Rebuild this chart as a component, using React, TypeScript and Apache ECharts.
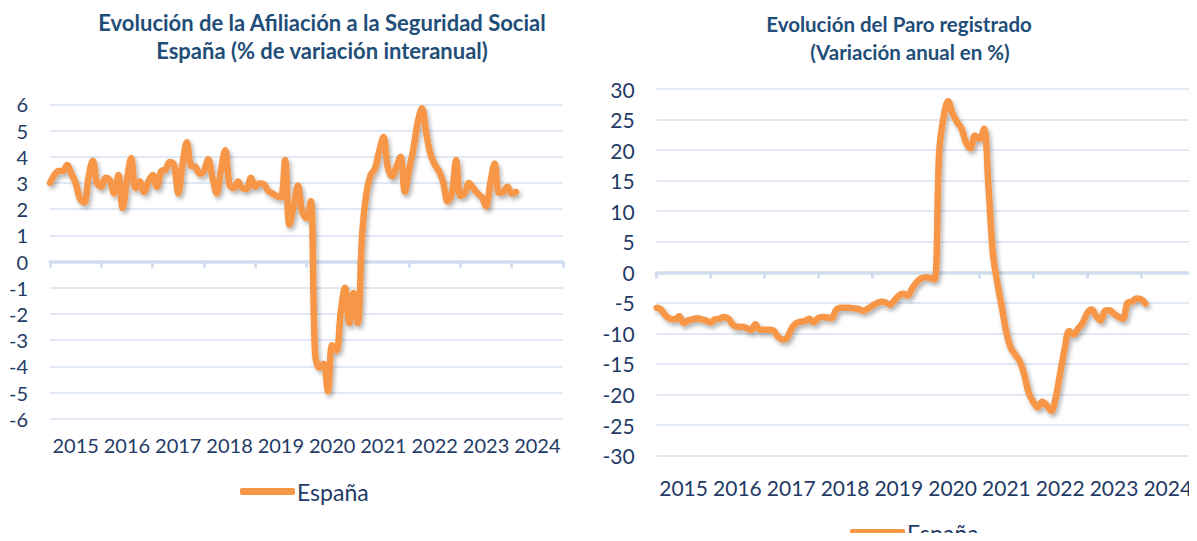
import React, { useEffect, useRef } from "react";
import * as echarts from "echarts";

const yearLabels = ["2015", "2016", "2017", "2018", "2019", "2020", "2021", "2022", "2023", "2024"];

const afiliacionValues = [
  3.0, 3.3, 3.45, 3.45, 3.68, 3.35, 3.0, 2.4, 2.25, 3.2, 3.85, 3.0,
  2.85, 3.2, 3.1, 2.6, 3.3, 2.05, 3.1, 3.95, 2.8, 3.05, 2.65, 3.05,
  3.3, 2.85, 3.45, 3.5, 3.8, 3.7, 2.6, 3.7, 4.55, 3.65, 3.62, 3.35,
  3.45, 3.9, 3.2, 2.6, 3.5, 4.25, 2.92, 2.8, 3.05, 2.8, 2.78, 3.2,
  2.85, 2.98, 2.95, 2.7, 2.6, 2.5, 2.45, 3.87, 1.4, 2.1, 2.9, 1.9,
  1.65, 2.3, -3.5, -4.05, -3.9, -4.95, -3.2, -3.4, -1.95, -1.0, -2.35, -1.2,
  -2.35, 1.0, 2.6, 3.3, 3.55, 4.2, 4.75, 3.6, 3.25, 3.6, 4.0, 2.66,
  3.5, 4.3, 5.3, 5.85, 4.9, 4.1, 3.7, 3.45, 3.0, 2.3, 2.6, 3.87,
  2.5, 2.6, 3.0, 2.8, 2.6, 2.45, 2.1, 3.0, 3.74, 2.62, 2.65, 2.85,
  2.6, 2.65,
];

const paroValues = [
  -5.8, -6.1, -7.1, -7.6, -7.7, -7.2, -8.3, -7.9, -7.7, -7.5, -7.7, -7.9,
  -8.2, -7.7, -7.6, -7.3, -7.6, -8.6, -8.9, -8.9, -9.1, -9.5, -8.5, -9.4,
  -9.4, -9.4, -9.5, -10.5, -11.0, -10.8, -9.3, -8.4, -8.1, -8.0, -7.6, -8.2,
  -7.5, -7.3, -7.4, -7.5, -6.2, -5.8, -5.8, -5.8, -5.9, -6.0, -6.3, -6.0,
  -5.5, -5.1, -4.8, -4.9, -5.3, -4.6, -3.8, -3.5, -3.8, -2.6, -1.6, -1.0,
  -0.8, -0.9, -1.2, 19.5, 25.5, 28.0, 26.0, 24.6, 23.5, 21.2, 20.3, 22.4,
  21.8, 23.5, 14.0, 3.0, -1.8, -5.8, -9.9, -12.4, -13.5, -14.6, -16.8, -19.8,
  -21.2, -22.1, -21.2, -21.8, -22.7, -20.5, -16.5, -12.5, -9.6, -10.2, -9.2, -8.3,
  -6.7, -6.1, -7.1, -7.9, -6.3, -6.2, -6.8, -7.3, -7.6, -5.0, -4.8, -4.3,
  -4.4, -5.1,
];

const seriesName = "España";
const titleLeft = ["Evolución de la Afiliación a la Seguridad Social", "España (% de variación interanual)"];
const titleRight = ["Evolución del Paro registrado", "(Variación anual en %)"];

const FONT = "Lato, 'Liberation Sans', Arial, sans-serif";
const LABEL_COLOR = "#1F3B66";
const TITLE_COLOR = "#1F4E79";
const GRID_COLOR = "#D7E2F0";
const AXIS_COLOR = "#D0DEEF";
const LINE_COLOR = "#F79646";

export default function App() {
  const ref = useRef<HTMLDivElement>(null);

  useEffect(() => {
    if (!ref.current) return;
    const chart = echarts.init(ref.current, undefined, { renderer: "svg" });

    // axis line + ticks on zero, no labels
    const zeroAxis = (gridIndex: number) => ({
      type: "category",
      gridIndex,
      data: yearLabels,
      boundaryGap: true,
      position: "bottom",
      axisLine: { show: true, onZero: true, lineStyle: { color: AXIS_COLOR, width: 3.5 } },
      axisTick: { show: true, length: 6, lineStyle: { color: AXIS_COLOR, width: 3 } },
      axisLabel: { show: false },
      splitLine: { show: false },
    });

    // labels at the bottom of the grid
    const labelAxis = (gridIndex: number, fontSize: number, margin: number) => ({
      type: "category",
      gridIndex,
      data: yearLabels,
      boundaryGap: true,
      position: "bottom",
      axisLine: { show: false, onZero: false },
      axisTick: { show: false },
      axisLabel: {
        interval: 0,
        hideOverlap: false,
        margin,
        color: LABEL_COLOR,
        fontSize,
        fontFamily: FONT,
      },
      splitLine: { show: false },
    });

    const hiddenX = (gridIndex: number) => ({
      type: "value",
      gridIndex,
      min: 0,
      max: 120,
      show: false,
    });

    const valAxis = (gridIndex: number, min: number, max: number, interval: number, fontSize: number) => ({
      type: "value",
      gridIndex,
      min,
      max,
      interval,
      axisLine: { show: false },
      axisTick: { show: false },
      axisLabel: { margin: 22, color: LABEL_COLOR, fontSize, fontFamily: FONT },
      splitLine: { show: true, lineStyle: { color: GRID_COLOR, width: 1.6 } },
    });

    const lineSeries = (xAxisIndex: number, yAxisIndex: number, values: number[]) => ({
      type: "line",
      name: seriesName,
      xAxisIndex,
      yAxisIndex,
      data: values.map((v, i) => [i, v]),
      showSymbol: false,
      smooth: 0.35,
      color: LINE_COLOR,
      lineStyle: {
        color: LINE_COLOR,
        width: 6.5,
        cap: "round",
        join: "round",
        shadowColor: "rgba(0,0,0,0.3)",
        shadowBlur: 4,
        shadowOffsetX: 2,
        shadowOffsetY: 3,
      },
      z: 3,
    });

    const titleText = (x: number, y: number, text: string, size: number) => ({
      type: "text",
      x,
      y,
      style: {
        text,
        fill: TITLE_COLOR,
        font: `bold ${size}px ${FONT}`,
        textAlign: "center",
        textVerticalAlign: "middle",
      },
    });

    const legendCfg = (left: number, top: number, fontSize: number) => ({
      left,
      top,
      padding: 0,
      data: [seriesName],
      icon: "roundRect",
      itemWidth: 55,
      itemHeight: 7,
      itemGap: 0,
      textStyle: { color: LABEL_COLOR, fontSize, fontFamily: FONT, padding: [0, 0, 0, -3] },
      selectedMode: false,
    });

    chart.setOption({
      animation: false,
      backgroundColor: "#ffffff",
      grid: [
        { left: 50, top: 104.3, width: 513, height: 314.4, outerBoundsMode: "none", containLabel: false },
        { left: 656.7, top: 89, width: 538, height: 366.6, outerBoundsMode: "none", containLabel: false },
      ],
      xAxis: [
        zeroAxis(0),
        hiddenX(0),
        labelAxis(0, 20, 16),
        zeroAxis(1),
        hiddenX(1),
        labelAxis(1, 21, 21),
      ],
      yAxis: [valAxis(0, -6, 6, 1, 20), valAxis(1, -30, 30, 5, 21)],
      legend: [legendCfg(240, 480, 23), legendCfg(850, 521, 23)],
      series: [lineSeries(1, 0, afiliacionValues), lineSeries(4, 1, paroValues)],
      graphic: [
        titleText(322, 22, titleLeft[0], 22),
        titleText(322, 50, titleLeft[1], 22),
        titleText(899, 24, titleRight[0], 20.5),
        titleText(910, 52, titleRight[1], 20.5),
      ],
    });

    return () => chart.dispose();
  }, []);

  return <div ref={ref} style={{ width: 1197, height: 541, margin: -8 }} />;
}
